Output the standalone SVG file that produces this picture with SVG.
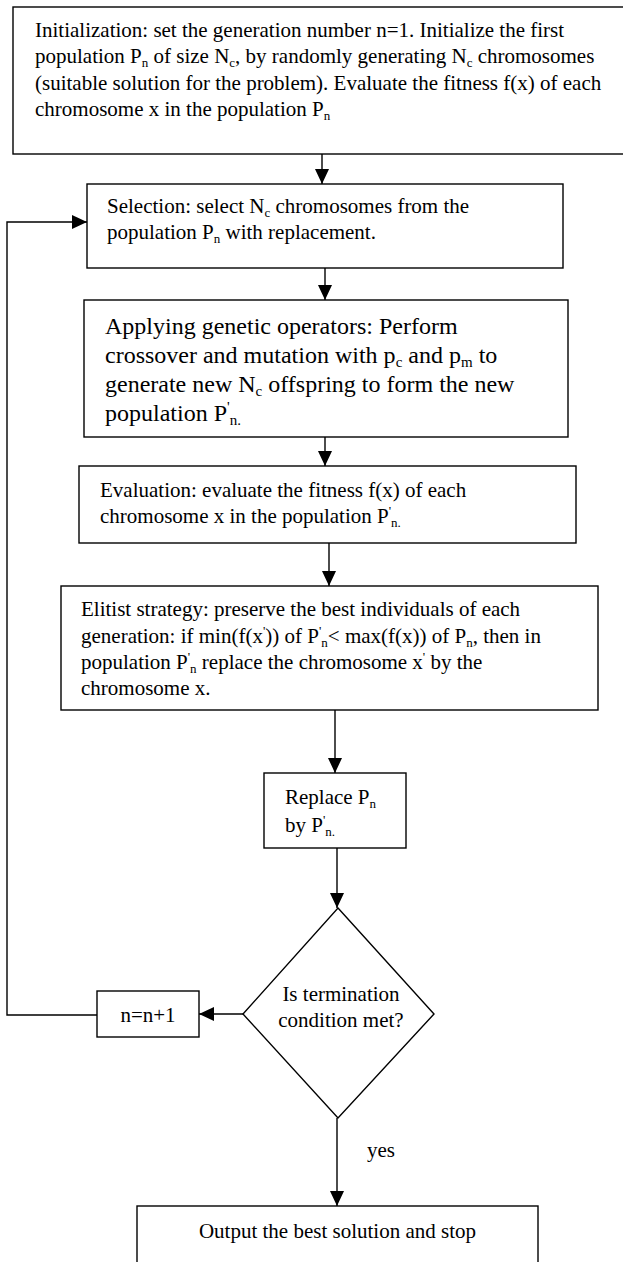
<svg xmlns="http://www.w3.org/2000/svg" width="623" height="1262" viewBox="0 0 623 1262">
<style>
.t{font-family:"Liberation Serif","Times New Roman",serif;font-size:21px;fill:#000}
.big{font-size:24px}
.s{font-size:13px}
.bs{font-size:15px}
.box{fill:#fff;stroke:#000;stroke-width:1.4}
.conn{stroke:#000;stroke-width:1.4;fill:none}
</style>
<defs>
<marker id="arr" markerUnits="userSpaceOnUse" markerWidth="15" markerHeight="14" refX="15" refY="7" orient="auto">
<path d="M0,0 L15,7 L0,14 Z" fill="#000"/>
</marker>
</defs>
<rect width="623" height="1262" fill="#fff"/>

<g id="connectors">
<line class="conn" x1="322" y1="154" x2="322" y2="184" marker-end="url(#arr)"/>
<line class="conn" x1="325" y1="268" x2="325" y2="300" marker-end="url(#arr)"/>
<line class="conn" x1="325" y1="437" x2="325" y2="466" marker-end="url(#arr)"/>
<line class="conn" x1="329" y1="543" x2="329" y2="586" marker-end="url(#arr)"/>
<line class="conn" x1="335" y1="710" x2="335" y2="773" marker-end="url(#arr)"/>
<line class="conn" x1="337" y1="848" x2="337" y2="908" marker-end="url(#arr)"/>
<line class="conn" x1="243" y1="1014" x2="199" y2="1014" marker-end="url(#arr)"/>
<polyline class="conn" points="97,1015 7,1015 7,222 87,222" marker-end="url(#arr)"/>
<line class="conn" x1="337" y1="1118" x2="337" y2="1206" marker-end="url(#arr)"/>
<text class="t" x="367" y="1157">yes</text>
</g>

<g id="init">
<rect class="box" x="13" y="7" width="620" height="147"/>
<text class="t" x="35" y="36.5">Initialization: set the generation number n=1. Initialize the first</text>
<text class="t" x="35" y="63">population P<tspan class="s" dy="4">n</tspan><tspan dy="-4"> of size N</tspan><tspan class="s" dy="4">c</tspan><tspan dy="-4">, by randomly generating N</tspan><tspan class="s" dy="4">c</tspan><tspan dy="-4"> chromosomes</tspan></text>
<text class="t" x="35" y="89.5">(suitable solution for the problem). Evaluate the fitness f(x) of each</text>
<text class="t" x="35" y="116">chromosome x in the population P<tspan class="s" dy="4">n</tspan></text>
</g>

<g id="selection">
<rect class="box" x="87" y="184" width="476" height="84"/>
<text class="t" x="107" y="213">Selection: select N<tspan class="s" dy="4">c</tspan><tspan dy="-4"> chromosomes from the</tspan></text>
<text class="t" x="107" y="239">population P<tspan class="s" dy="4">n</tspan><tspan dy="-4"> with replacement.</tspan></text>
</g>

<g id="operators">
<rect class="box" x="84" y="300" width="484" height="137"/>
<text class="t big" x="105" y="334">Applying genetic operators: Perform</text>
<text class="t big" x="105" y="363">crossover and mutation with p<tspan class="bs" dy="4">c</tspan><tspan dy="-4"> and p</tspan><tspan class="bs" dy="4">m</tspan><tspan dy="-4"> to</tspan></text>
<text class="t big" x="105" y="392">generate new N<tspan class="bs" dy="4">c</tspan><tspan dy="-4"> offspring to form the new</tspan></text>
<text class="t big" x="105" y="421">population P<tspan class="bs" dy="-9">'</tspan><tspan class="bs" dy="13">n.</tspan></text>
</g>

<g id="evaluation">
<rect class="box" x="79" y="466" width="497" height="77"/>
<text class="t" x="100" y="497">Evaluation: evaluate the fitness f(x) of each</text>
<text class="t" x="100" y="523">chromosome x in the population P<tspan class="s" dy="-8">'</tspan><tspan class="s" dy="12">n.</tspan></text>
</g>

<g id="elitist">
<rect class="box" x="61" y="586" width="537" height="124"/>
<text class="t" x="81" y="616">Elitist strategy: preserve the best individuals of each</text>
<text class="t" x="81" y="643">generation: if min(f(x<tspan class="s" dy="-8">'</tspan><tspan dy="8">)) of P</tspan><tspan class="s" dy="-8">'</tspan><tspan class="s" dy="12">n</tspan><tspan dy="-4">&lt; max(f(x)) of P</tspan><tspan class="s" dy="4">n</tspan><tspan dy="-4">, then in</tspan></text>
<text class="t" x="81" y="669">population P<tspan class="s" dy="-8">'</tspan><tspan class="s" dy="12">n</tspan><tspan dy="-4"> replace the chromosome x</tspan><tspan class="s" dy="-8">'</tspan><tspan dy="8"> by the</tspan></text>
<text class="t" x="81" y="695">chromosome x.</text>
</g>

<g id="replace">
<rect class="box" x="264" y="773" width="142" height="75"/>
<text class="t" x="285" y="804">Replace P<tspan class="s" dy="4">n</tspan></text>
<text class="t" x="285" y="832">by P<tspan class="s" dy="-8">'</tspan><tspan class="s" dy="12">n.</tspan></text>
</g>

<g id="termination">
<polygon class="box" points="338,908 434,1014 338,1118 243,1014"/>
<text class="t" x="341" y="1001" text-anchor="middle">Is termination</text>
<text class="t" x="341" y="1027" text-anchor="middle">condition met?</text>
</g>

<g id="increment">
<rect class="box" x="97" y="991" width="102" height="46"/>
<text class="t" x="148" y="1022" text-anchor="middle">n=n+1</text>
</g>

<g id="output">
<rect class="box" x="137" y="1206" width="401" height="70"/>
<text class="t" x="337.5" y="1238" text-anchor="middle">Output the best solution and stop</text>
</g>
</svg>
